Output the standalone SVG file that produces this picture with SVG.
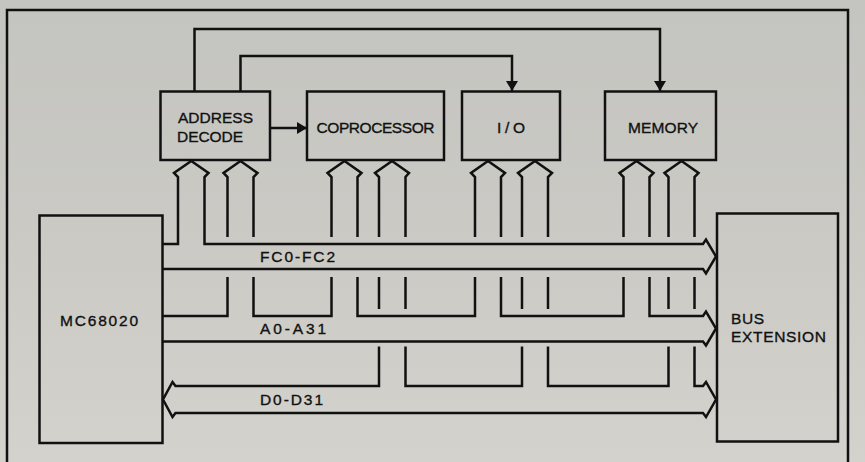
<svg xmlns="http://www.w3.org/2000/svg" width="865" height="462" viewBox="0 0 865 462">
<defs>
<linearGradient id="bg" x1="0" y1="0" x2="0" y2="1">
<stop offset="0" stop-color="#c4c4c0"/>
<stop offset="0.55" stop-color="#cbcac5"/>
<stop offset="1" stop-color="#d3d2cc"/>
</linearGradient>
<marker id="ah" viewBox="0 0 10 12" refX="10" refY="6" markerWidth="10" markerHeight="12" markerUnits="userSpaceOnUse" orient="auto">
<path d="M0,0 L10,6 L0,12 Z" fill="#111"/>
</marker>
<style>
.box{fill:none;stroke:#111;stroke-width:2.5}
.ln{fill:none;stroke:#111;stroke-width:2.5;stroke-linejoin:miter}
.t{font-family:"Liberation Sans",Arial,sans-serif;font-size:15.5px;fill:#111;stroke:#111;stroke-width:0.35}
</style>
</defs>
<rect x="0" y="0" width="865" height="462" fill="url(#bg)"/>
<path class="ln" d="M7,462 V10 H848 V462"/>

<g id="mc68020">
<rect class="box" x="39.5" y="215.5" width="123" height="227.5"/>
<text class="t" x="60" y="326" textLength="78" lengthAdjust="spacing">MC68020</text>
</g>
<g id="address-decode">
<rect class="box" x="160.5" y="91.5" width="109.5" height="68.5"/>
<text class="t" x="178" y="123" textLength="75" lengthAdjust="spacing">ADDRESS</text>
<text class="t" x="177" y="141.5" textLength="66" lengthAdjust="spacing">DECODE</text>
</g>
<g id="coprocessor">
<rect class="box" x="307" y="91.5" width="137" height="68.5"/>
<text class="t" x="316.5" y="132.5" textLength="118" lengthAdjust="spacing">COPROCESSOR</text>
</g>
<g id="io">
<rect class="box" x="462" y="91.5" width="98" height="68.5"/>
<text class="t" x="497" y="132.5" textLength="28" lengthAdjust="spacing">I/O</text>
</g>
<g id="memory">
<rect class="box" x="605" y="91.5" width="111" height="68.5"/>
<text class="t" x="628" y="132.5" textLength="70" lengthAdjust="spacing">MEMORY</text>
</g>
<g id="bus-extension">
<rect class="box" x="717" y="213.5" width="121" height="228"/>
<text class="t" x="731" y="323.5" textLength="33" lengthAdjust="spacing">BUS</text>
<text class="t" x="731" y="342" textLength="95" lengthAdjust="spacing">EXTENSION</text>
</g>

<g id="connectors">
<path class="ln" d="M194.5,91.5 V29 H660 V91" marker-end="url(#ah)"/>
<path class="ln" d="M240.5,91.5 V56 H512 V91" marker-end="url(#ah)"/>
<path class="ln" d="M270,128 H307" marker-end="url(#ah)"/>

<path class="ln" d="M162.5,244 H178 V177 L174,173 L191.25,161 L208.5,173 L204.5,177 V244 H703 L706,239.5 L716,256.5 L706,273.5 L703,269 H162.5"/>
<text class="t" x="260" y="261.5" textLength="75" lengthAdjust="spacing">FC0-FC2</text>

<path class="ln" d="M227.5,237 V177 L223.5,173 L240.5,161 L257.5,173 L253.5,177 V237"/>
<path class="ln" d="M331.5,237 V177 L327.5,173 L344.5,161 L361.5,173 L357.5,177 V237"/>
<path class="ln" d="M475,237 V177 L471,173 L488,161 L505,173 L501,177 V237"/>
<path class="ln" d="M623.5,237 V177 L619.5,173 L636.5,161 L653.5,173 L649.5,177 V237"/>
<path class="ln" d="M162.5,316 H227.5 V277"/>
<path class="ln" d="M253.5,277 V316 H331.5 V277"/>
<path class="ln" d="M357.5,277 V316 H475 V277"/>
<path class="ln" d="M501,277 V316 H623.5 V277"/>
<path class="ln" d="M649.5,277 V316 H703 L706,311.5 L716,328.5 L706,345.5 L703,341.5 H162.5"/>
<text class="t" x="260" y="333.5" textLength="66" lengthAdjust="spacing">A0-A31</text>

<path class="ln" d="M379,237 V177 L375,173 L392,161 L409,173 L405.5,177 V237"/>
<path class="ln" d="M522,237 V177 L518,173 L535,161 L552,173 L548,177 V237"/>
<path class="ln" d="M668.5,237 V177 L664.5,173 L681.5,161 L698.5,173 L694.5,177 V237"/>
<path class="ln" d="M379,277 V309 M405.5,277 V309 M522,277 V309 M548,277 V309 M668.5,277 V309 M694.5,277 V309"/>
<path class="ln" d="M379,346.5 V386 H175.5 L172.5,382 L163,399.5 L172.5,417 L175.5,413 H703 L706,417 L716,399.5 L706,382 L703,386 H694.5 V346.5"/>
<path class="ln" d="M405.5,346.5 V386 H522 V346.5"/>
<path class="ln" d="M548,346.5 V386 H668.5 V346.5"/>
<text class="t" x="260" y="404.5" textLength="63" lengthAdjust="spacing">D0-D31</text>
</g>
</svg>
